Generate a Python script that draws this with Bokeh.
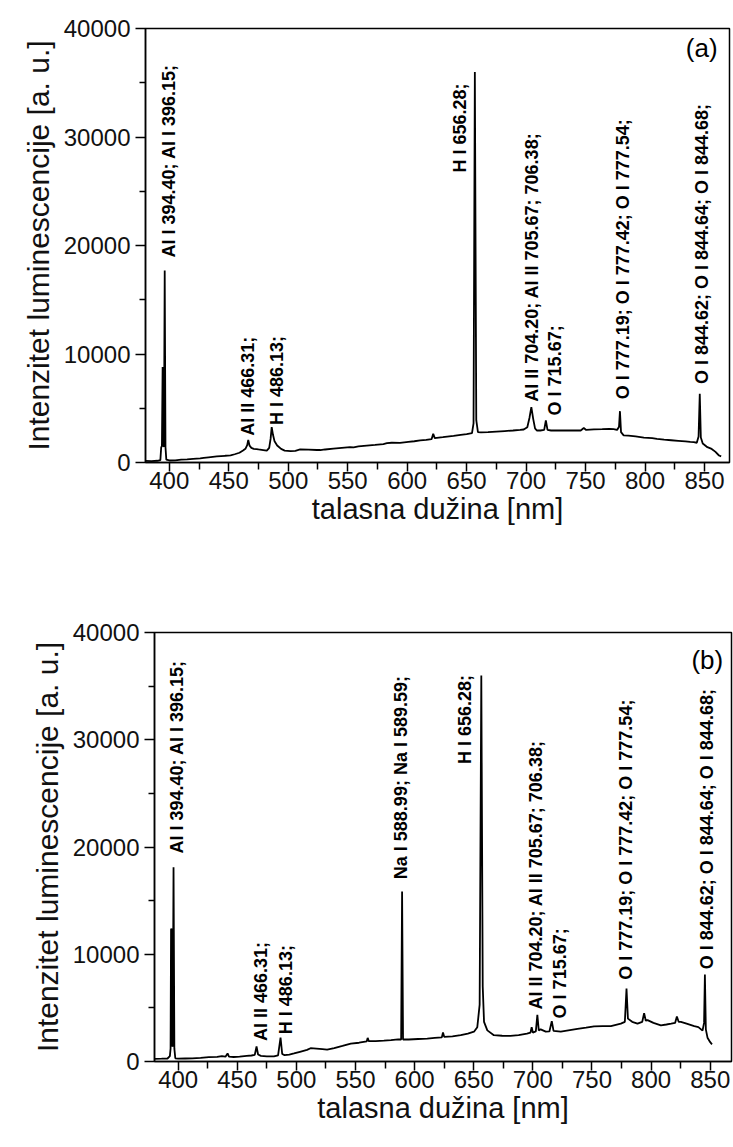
import math
from bokeh.plotting import figure
from bokeh.layouts import column, row
from bokeh.models import ColumnDataSource, FixedTicker, Label, Spacer
from bokeh.core.properties import value
from bokeh.embed import file_html
from bokeh.resources import INLINE

# ---------------- data ----------------
x_ticks = [400, 450, 500, 550, 600, 650, 700, 750, 800, 850]
x_minor = [375, 425, 475, 525, 575, 625, 675, 725, 775, 825, 875]
x_tick_labels = ["400", "450", "500", "550", "600", "650", "700", "750", "800", "850"]
y_ticks = [0, 10000, 20000, 30000, 40000]
y_minor = [5000, 15000, 25000, 35000]
y_tick_labels = ["0", "10000", "20000", "30000", "40000"]

# spectrum (a)
wl_a = [380, 385, 390, 392.5, 393.2, 393.8, 394.4, 394.9, 395.5, 396.15, 396.8, 397.5,
        400, 405, 410, 415, 420, 426, 429, 433, 440, 447, 451.5, 455, 459, 462, 464,
        465.5, 466.4, 467.5, 469, 471, 475, 479, 482, 484, 485.2, 486.1, 487.2, 488.5,
        490.7, 494, 497, 502, 506, 510, 517, 524, 527, 531, 538, 545, 552, 555, 559,
        566, 573, 580, 583, 587, 594, 601, 606, 611, 616, 620.5, 621.9, 623.2, 630,
        639, 645, 650, 654.5, 655.8, 656.9, 658.1, 659.5, 662, 668, 675, 682, 689,
        695, 698, 701, 702.8, 704.4, 706, 707.5, 709, 712, 715.2, 716.6, 718, 721,
        726, 733, 740, 745.9, 748.5, 750.5, 757, 764, 770, 773.6, 776.5, 778.1, 778.9,
        779.8, 782, 786, 792, 799, 806, 810, 816, 822, 828, 834, 838, 841, 843.5,
        845.0, 846.0, 846.9, 848.5, 852.4, 856, 859, 862.2, 864]
int_a = [150, 130, 160, 220, 1400, 1500, 8800, 1600, 1450, 17700, 1400, 260,
         185, 200, 260, 280, 330, 380, 430, 480, 560, 620, 650, 760, 900, 1100, 1260,
         1600, 2090, 1550, 1350, 1260, 1200, 1150, 1100, 1350, 2200, 3260, 2550, 1950,
         1570, 1250, 1100, 1040, 1080, 1200, 1180, 1150, 1150, 1200, 1280, 1350, 1410, 1400, 1480,
         1550, 1620, 1700, 1780, 1820, 1800, 1900, 1960, 2030, 2080, 2150, 2640, 2250, 2330,
         2450, 2550, 2620, 2700, 3600, 36000, 3900, 2800, 2780, 2800, 2850, 2900, 2950,
         3000, 3040, 3250, 4100, 5100, 4000, 3150, 2950, 2950, 3000, 3870, 3000, 2950,
         2950, 2950, 2950, 2950, 3180, 3000, 3050, 3070, 3100, 3070, 3000, 3300, 4730,
         2800, 2500, 2480, 2400, 2300, 2250, 2180, 2100, 2050, 2000, 1950, 1900, 1870, 1820,
         2400, 6330, 2300, 1750, 1410, 1250, 1000, 645, 560]

# spectrum (b)
wl_b = [380, 386, 391, 393.0, 393.6, 394.0, 394.4, 394.8, 395.4, 396.1, 396.8, 397.6,
        400, 406, 412, 419, 426, 433, 437, 440, 441.8, 443, 447, 452, 458, 462, 464.8,
        466.3, 467.6, 470, 475, 481, 484.5, 486.6, 488, 490, 494, 498, 503, 509, 512,
        517, 522, 526, 532, 539, 546, 553, 559.5, 560.3, 561.2, 567, 574, 580, 586,
        588.6, 589.4, 590.2, 595, 603, 610.7, 617, 623, 624, 625, 632, 639, 645, 650.2,
        653, 655, 656.4, 657.6, 658.7, 661.5, 667, 674, 681, 688, 695, 698, 699, 700,
        702.5, 703.8, 705, 706.6, 710.9, 714, 716, 717.5, 723.6, 730, 737.7, 745, 751.8,
        759, 766, 774.4, 777.8, 779.2, 780.4, 784, 788.5, 792.5, 794.1, 795.5, 797, 802,
        808.3, 813, 817, 820.3, 821.8, 823.3, 825.2, 830, 836.5, 840, 843.5, 844.8,
        845.5, 846.3, 847.7, 850, 851.5]
int_b = [250, 260, 280, 500, 1200, 12300, 12400, 1500, 1400, 18100, 1200, 300,
         260, 280, 300, 330, 400, 425, 500, 450, 750, 450, 420, 450, 520, 560, 620,
         1400, 650, 520, 480, 470, 560, 2220, 700, 590, 650, 750, 900, 1080, 1240,
         1200, 1150, 1100, 1250, 1450, 1670, 1750, 1880, 2200, 1900, 1900, 1950, 2000, 2060,
         2050, 15860, 2050, 2050, 2100, 2130, 2200, 2250, 2710, 2300, 2350, 2450, 2600, 2780,
         3200, 5300, 36000, 7000, 3700, 2900, 2450, 2400, 2390, 2450, 2600, 2700, 3200, 2700,
         2800, 4350, 2900, 3000, 2780, 2800, 3760, 2850, 2780, 2900, 3040, 3150, 3270,
         3300, 3300, 3530, 3700, 6800, 4000, 3700, 3530, 3700, 4510, 3800, 3860, 3600,
         3370, 3450, 3530, 3600, 4190, 3700, 3700, 3530, 3300, 3200, 2880, 3600,
         8110, 3000, 2220, 1800, 1600]

# line annotations
lab_text_a = ["Al I 394.40; Al I 396.15;", "Al II 466.31;", "H I 486.13;", "H I 656.28;",
              "Al II 704.20; Al II 705.67; 706.38;", "O I 715.67;",
              "O I 777.19; O I 777.42; O I 777.54;", "O I 844.62; O I 844.64; O I 844.68;"]
lab_x_a = [399.6, 466.1, 490.2, 644.4, 704.6, 724.3, 781.4, 847.6]
lab_y_a = [18900, 2470, 3450, 26720, 5590, 4340, 5820, 7230]

lab_text_b = ["Al I 394.40; Al I 396.15;", "Al II 466.31;", "H I 486.13;",
              "Na I 588.99; Na I 589.59;", "H I 656.28;",
              "Al II 704.20; Al II 705.67; 706.38;", "O I 715.67;",
              "O I 777.19; O I 777.42; O I 777.54;", "O I 844.62; O I 844.64; O I 844.68;"]
lab_x_b = [399.2, 469.7, 490.8, 588.1, 642.3, 702.3, 722.6, 778.5, 847.6]
lab_y_b = [19400, 1900, 2550, 17000, 27740, 4840, 4020, 7620, 8600]

FONT = "Liberation Sans"


def make_panel(wl, inten, lab_x, lab_y, lab_text, tag, tag_y, x_max, fw, fh, left, right, top, bottom):
    p = figure(output_backend="svg", toolbar_location=None,
               frame_width=fw, frame_height=fh,
               min_border_left=left, min_border_right=right,
               min_border_top=top, min_border_bottom=bottom,
               x_range=(380, x_max), y_range=(0, 40000),
               background_fill_color="white", border_fill_color="white")
    p.grid.visible = False
    p.outline_line_color = "black"
    p.outline_line_width = 1.5
    p.outline_line_alpha = 1.0

    p.line(wl, inten, line_color="black", line_width=1.8)

    src = ColumnDataSource(dict(x=lab_x, y=lab_y, t=lab_text))
    p.text(x="x", y="y", text="t", source=src, angle=math.pi / 2,
           text_align="left", text_baseline="middle",
           text_font=value(FONT), text_font_size="18px", text_font_style="bold",
           text_color="black")

    p.add_layout(Label(x=861, y=tag_y, text=tag, text_align="right", text_baseline="middle",
                       text_font=FONT, text_font_size="26px", text_color="black"))

    xa = p.xaxis[0]
    xa.ticker = FixedTicker(ticks=x_ticks, minor_ticks=x_minor)
    xa.major_label_overrides = {t: l for t, l in zip(x_ticks, x_tick_labels)}
    xa.axis_label = "talasna dužina [nm]"
    ya = p.yaxis[0]
    ya.ticker = FixedTicker(ticks=y_ticks, minor_ticks=y_minor)
    ya.major_label_overrides = {t: l for t, l in zip(y_ticks, y_tick_labels)}
    ya.axis_label = "Intenzitet luminescencije [a. u.]"
    for ax in (xa, ya):
        ax.axis_line_color = "black"
        ax.axis_line_width = 1.5
        ax.major_tick_line_color = "black"
        ax.major_tick_line_width = 1.5
        ax.minor_tick_line_color = "black"
        ax.minor_tick_line_width = 1.5
        ax.major_tick_in = 0
        ax.minor_tick_in = 0
        ax.major_label_text_font = FONT
        ax.major_label_text_font_size = "24px"
        ax.major_label_text_color = "#111111"
        ax.axis_label_text_font = FONT
        ax.axis_label_text_font_style = "normal"
        ax.axis_label_text_color = "#111111"
    xa.major_tick_out = 9
    xa.minor_tick_out = 7
    ya.major_tick_out = 10
    ya.minor_tick_out = 6
    xa.major_label_standoff = 0
    ya.major_label_standoff = 5
    xa.axis_label_text_font_size = "29px"
    ya.axis_label_text_font_size = "30px"
    xa.axis_label_standoff = 1
    ya.axis_label_standoff = 6
    return p


pa = make_panel(wl_a, int_a, lab_x_a, lab_y_a, lab_text_a, "(a)", 38200, 871,
                584, 434, 145, 4, 28, 128)
pb = make_panel(wl_b, int_b, lab_x_b, lab_y_b, lab_text_b, "(b)", 37400, 868,
                577, 429, 145, 2, 42, 86)

layout = column(pa, row(Spacer(width=9, height=10), pb), spacing=0)
open("out.html", "w").write(file_html(layout, INLINE))
